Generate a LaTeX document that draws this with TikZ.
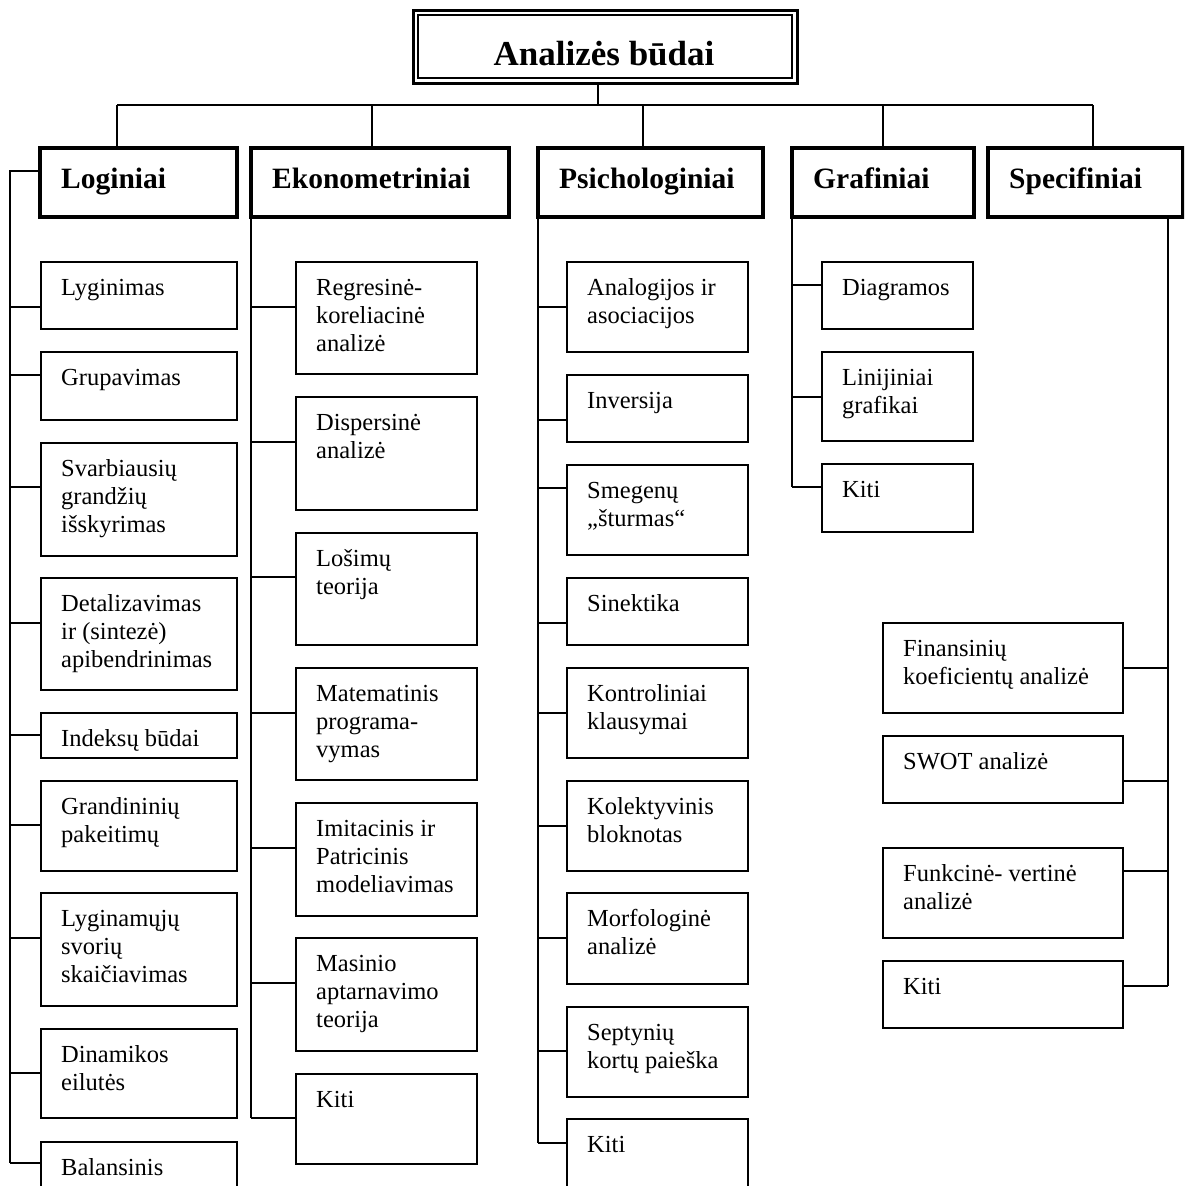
\documentclass[tikz,border=0pt]{standalone}
\usepackage{fontspec}
\setmainfont{Liberation Serif}
% #1 name, #2 left, #3 top, #4 right, #5 bottom, #6 text, #7 branch y, #8 bus, #9 side facing the bus
\newcommand\cbox[9]{%
  \node[box, minimum width={(#4)-(#2)}, minimum height={(#5)-(#3)}] (#1) at ({((#2)+(#4))/2},{((#3)+(#5))/2}) {};
  \node[ctext] (#1-t) at ([xshift=20pt,yshift=-33pt]#1.north west) {\begin{tabular}[t]{@{}l@{}}#6\end{tabular}};
  \draw[link] (#1.#9 |- 0,#7) -- (#8 |- 0,#7);
}
% #1 name, #2 left, #3 right, #4 title
\newcommand\headbox[4]{%
  \node[head, minimum width={(#3)-(#2)}, minimum height=69] (#1) at ({((#2)+(#3))/2},182.5) {};
  \node[htext, xshift=21pt] (#1-t) at (#1.west |- 0,188) {#4};
}
\begin{document}
\begin{tikzpicture}[x=1pt,y=-1pt,
  box/.style={draw, line width=1.8pt, rectangle, inner sep=0pt, outer sep=0pt},
  head/.style={draw, line width=3.5pt, rectangle, inner sep=0pt, outer sep=0pt},
  ctext/.style={anchor=base west, inner sep=0pt, font=\fontsize{24.5}{28.4}\selectfont},
  htext/.style={anchor=base west, inner sep=0pt, font=\fontsize{29.5}{34}\selectfont\bfseries},
  link/.style={line width=1.8pt},
  colbus/.style={line width=2.2pt},
]
\clip (0,0) rectangle (1184,1186);
\fill[white] (0,0) rectangle (1184,1186);

% title with double frame
\node[draw, line width=3pt, rectangle, minimum width=384, minimum height=73, inner sep=0pt, outer sep=0pt] (title) at (605,46.5) {};
\draw[line width=1.5pt] ([shift={(5pt,-5pt)}]title.north west) rectangle ([shift={(-5pt,5pt)}]title.south east);
\node[anchor=base, inner sep=0pt, font=\fontsize{35}{40}\selectfont\bfseries] (title-t) at (604,65) {Analizės būdai};

% category headers
\headbox{log}{40}{237}{Loginiai}
\headbox{eko}{251}{509}{Ekonometriniai}
\headbox{psi}{538}{763}{Psichologiniai}
\headbox{gra}{792}{974}{Grafiniai}
\headbox{spe}{988}{1183}{Specifiniai}

% top distribution line
\coordinate (hbusL) at (117,105);
\coordinate (hbusR) at (1093,105);
\draw[link] ([xshift=-7pt]title.south) -- ([xshift=-7pt]title.south |- hbusL);
\draw[link] (hbusL) -- (hbusR);
\draw[link] (hbusL) -- (hbusL |- log.north);
\draw[link] (372,105) -- (372,0 |- eko.north);
\draw[link] (643,105) -- (643,0 |- psi.north);
\draw[link] (883,105) -- (883,0 |- gra.north);
\draw[link] (hbusR) -- (hbusR |- spe.north);

% column buses
\coordinate (lbus) at (10,171);
\coordinate (ebus) at (251,217);
\coordinate (pbus) at (538,217);
\coordinate (gbus) at (792,217);
\coordinate (sbus) at (1168,217);
\draw[colbus] (log.west |- lbus) -- (lbus) -- (lbus |- 0,1163);
\draw[colbus] (eko.south west) -- (ebus |- 0,1118);
\draw[colbus] (psi.south west) -- (pbus |- 0,1143);
\draw[colbus] (gra.south west) -- (gbus |- 0,487);
\draw[colbus] (sbus) -- (sbus |- 0,986);

% Loginiai
\cbox{l1}{41}{262}{237}{329}{Lyginimas}{307}{lbus}{west}
\cbox{l2}{41}{352}{237}{420}{Grupavimas}{375}{lbus}{west}
\cbox{l3}{41}{443}{237}{556}{Svarbiausių\\grandžių\\išskyrimas}{487}{lbus}{west}
\cbox{l4}{41}{578}{237}{690}{Detalizavimas\\ir (sintezė)\\apibendrinimas}{623}{lbus}{west}
\cbox{l5}{41}{713}{237}{758}{Indeksų būdai}{735}{lbus}{west}
\cbox{l6}{41}{781}{237}{871}{Grandininių\\pakeitimų}{825}{lbus}{west}
\cbox{l7}{41}{893}{237}{1006}{Lyginamųjų\\svorių\\skaičiavimas}{938}{lbus}{west}
\cbox{l8}{41}{1029}{237}{1118}{Dinamikos\\eilutės}{1073}{lbus}{west}
\cbox{l9}{41}{1142}{237}{1230}{Balansinis}{1163}{lbus}{west}

% Ekonometriniai
\cbox{e1}{296}{262}{477}{374}{Regresinė-\\koreliacinė\\analizė}{307}{ebus}{west}
\cbox{e2}{296}{397}{477}{510}{Dispersinė\\analizė}{442}{ebus}{west}
\cbox{e3}{296}{533}{477}{645}{Lošimų\\teorija}{577}{ebus}{west}
\cbox{e4}{296}{668}{477}{780}{Matematinis\\programa-\\vymas}{713}{ebus}{west}
\cbox{e5}{296}{803}{477}{916}{Imitacinis ir\\Patricinis\\modeliavimas}{848}{ebus}{west}
\cbox{e6}{296}{938}{477}{1051}{Masinio\\aptarnavimo\\teorija}{983}{ebus}{west}
\cbox{e7}{296}{1074}{477}{1164}{Kiti}{1118}{ebus}{west}

% Psichologiniai
\cbox{p1}{567}{262}{748}{352}{Analogijos ir\\asociacijos}{307}{pbus}{west}
\cbox{p2}{567}{375}{748}{442}{Inversija}{420}{pbus}{west}
\cbox{p3}{567}{465}{748}{555}{Smegenų\\„šturmas“}{488}{pbus}{west}
\cbox{p4}{567}{578}{748}{645}{Sinektika}{623}{pbus}{west}
\cbox{p5}{567}{668}{748}{758}{Kontroliniai\\klausymai}{713}{pbus}{west}
\cbox{p6}{567}{781}{748}{871}{Kolektyvinis\\bloknotas}{826}{pbus}{west}
\cbox{p7}{567}{893}{748}{984}{Morfologinė\\analizė}{938}{pbus}{west}
\cbox{p8}{567}{1007}{748}{1097}{Septynių\\kortų paieška}{1051}{pbus}{west}
\cbox{p9}{567}{1119}{748}{1230}{Kiti}{1143}{pbus}{west}

% Grafiniai
\cbox{g1}{822}{262}{973}{329}{Diagramos}{285}{gbus}{west}
\cbox{g2}{822}{352}{973}{441}{Linijiniai\\grafikai}{397}{gbus}{west}
\cbox{g3}{822}{464}{973}{532}{Kiti}{487}{gbus}{west}

% Specifiniai
\cbox{s1}{883}{623}{1123}{713}{Finansinių\\koeficientų analizė}{668}{sbus}{east}
\cbox{s2}{883}{736}{1123}{803}{SWOT analizė}{781}{sbus}{east}
\cbox{s3}{883}{848}{1123}{938}{Funkcinė- vertinė\\analizė}{871}{sbus}{east}
\cbox{s4}{883}{961}{1123}{1028}{Kiti}{986}{sbus}{east}
\end{tikzpicture}
\end{document}
